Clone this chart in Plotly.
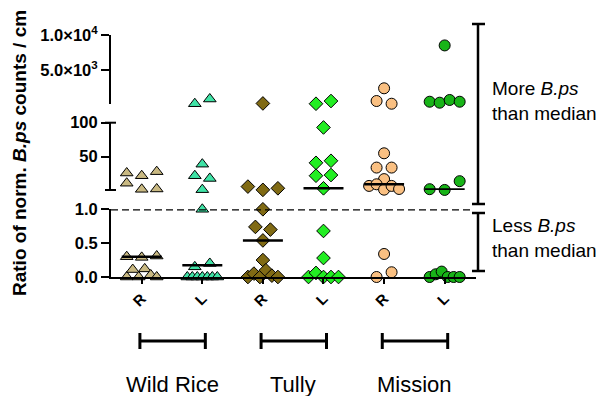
import numpy as np
import plotly.graph_objects as go

# ---------------- data ----------------
groups = ["Wild Rice", "Tully", "Mission"]
tick_labels = ["R", "L", "R", "L", "R", "L"]

wild_rice_R = [26, 22, 28, 11, 2.0, 2.5, 0.30, 0.29, 0.31, 0, 0.11, 0, 0.12, 0.03, 0]
wild_rice_L = [110, 790, 39, 22, 18, 1.5, 1.0, 0.15, 0.2, 0, 0, 0, 0, 0, 0, 0]
tully_R = [150, 6, 1.2, 3.5, 1.0, 0.74, 0.70, 0.54, 0.25, 0, 0.05, 0, 0.1, 0.02, 0]
tully_L = [110, 500, 93, 41, 44, 22, 23, 3.5, 0.68, 0.28, 0, 0.06, 0, 0, 0]
mission_R = [500, 110, 2330, 55, 34, 34, 17, 7, 9.4, 1.5, 7, 2.5, 0.34, 0, 0.07]
mission_L = [8500, 400, 260, 650, 400, 2.2, 1.1, 14, 0, 0.04, 0.08, 0, 0, 0]

series = [wild_rice_R, wild_rice_L, tully_R, tully_L, mission_R, mission_L]

# ---------------- styles ----------------
symbols = ["triangle-up", "triangle-up", "diamond", "diamond", "circle", "circle"]
sizes = [11, 11, 10.5, 10.5, 11, 11]
colors = ["#C9B982", "#3FE3A6", "#806A14", "#22EE22", "#FAC082", "#18B418"]
FONT = "Arial, Liberation Sans, sans-serif"

PAGE_W, PAGE_H = 605, 404
BODY = 8                                    # default page margin around the figure
W, H = PAGE_W - 2 * BODY, PAGE_H - 2 * BODY  # keep the page free of scrollbars
FIG_R, FIG_B = BODY + W, BODY + H          # figure right / bottom edge in page px
PL, PR, PT, PB = 111, 476, 35, 277          # plot area in page px
PW, PH = PR - PL, PB - PT
XR = [-0.507, 5.517]
PX_PER_UNIT = PW / (XR[1] - XR[0])

# axis segments: (domain, range)
SEGS = [((0.0, 0.2798), (0, 1)),
        ((0.3595, 0.6376), (1, 100)),
        ((0.7157, 1.0), (100, 10000))]
YNAMES = ["y", "y2", "y3"]


def seg_of(v):
    if v <= 1:
        return 0
    if v <= 100:
        return 1
    return 2


def py_of(v):
    (d0, d1), (r0, r1) = SEGS[seg_of(v)]
    frac = d0 + (v - r0) / (r1 - r0) * (d1 - d0)
    return PB - frac * PH


def px2x(px):
    return (px - PL) / PW


def py2y(py):
    return (PB - py) / PH


def swarm_offsets(vals, thr=9.0, max_w=30.0, step=15.0):
    """row-based spreading of points with similar pixel heights"""
    pys = np.array([py_of(v) for v in vals])
    order = sorted(range(len(vals)), key=lambda i: (-pys[i], i))
    rows, cur, start = [], [], None
    for i in order:
        if start is None or start - pys[i] > thr:
            if cur:
                rows.append(cur)
            cur, start = [i], pys[i]
        else:
            cur.append(i)
    if cur:
        rows.append(cur)
    offs = np.zeros(len(vals))
    for r in rows:
        r = sorted(r)
        n = len(r)
        sp = step if n <= 1 else min(step, max_w / (n - 1))
        for k, i in enumerate(r):
            offs[i] = (k - (n - 1) / 2) * sp / PX_PER_UNIT
    return offs


fig = go.Figure()

for ci, vals in enumerate(series):
    offs = swarm_offsets(vals)
    for s in range(3):
        idx = [i for i, v in enumerate(vals) if seg_of(v) == s]
        if not idx:
            continue
        fig.add_trace(go.Scatter(
            x=[ci + offs[i] for i in idx], y=[vals[i] for i in idx],
            yaxis=YNAMES[s], xaxis="x", mode="markers", cliponaxis=False,
            showlegend=False, hoverinfo="skip",
            marker=dict(symbol=symbols[ci], size=sizes[ci], color=colors[ci],
                        line=dict(color="black", width=1))))

# medians
for ci, vals in enumerate(series):
    med = float(np.median(vals))
    fig.add_trace(go.Scatter(
        x=[ci - 0.33, ci + 0.33], y=[med, med], yaxis=YNAMES[seg_of(med)],
        xaxis="x", mode="lines", cliponaxis=False, showlegend=False,
        hoverinfo="skip", line=dict(color="black", width=2.5)))

ycommon = dict(showline=True, linecolor="black", linewidth=2, ticks="outside",
               ticklen=8, tickwidth=2, tickcolor="black", showgrid=False,
               zeroline=False, anchor="x",
               tickfont=dict(family=FONT, size=16.5, color="black"))

fig.update_layout(
    width=W, height=H, plot_bgcolor="white", paper_bgcolor="white",
    margin=dict(l=PL - BODY, r=FIG_R - PR, t=PT - BODY, b=FIG_B - PB),
    font=dict(family=FONT, color="black"),
    xaxis=dict(range=XR, tickvals=list(range(6)),
               ticktext=[f"<b>{t}</b>" for t in tick_labels], tickangle=-45,
               showline=True, linewidth=2, linecolor="black", ticks="outside",
               ticklen=5, tickwidth=2, tickcolor="black", showgrid=False,
               zeroline=False, anchor="y",
               tickfont=dict(family=FONT, size=15, color="black")),
    yaxis=dict(domain=SEGS[0][0], range=SEGS[0][1], tickvals=[0, 0.5, 1],
               ticktext=["<b>0.0</b>", "<b>0.5</b>", "<b>1.0</b>"], **ycommon),
    yaxis2=dict(domain=SEGS[1][0], range=SEGS[1][1], tickvals=[50, 100],
                ticktext=["<b>50</b>", "<b>100</b>"], **ycommon),
    yaxis3=dict(domain=SEGS[2][0], range=SEGS[2][1], tickvals=[5000, 10000],
                ticktext=["<b>5.0×10<sup>3</sup></b>", "<b>1.0×10<sup>4</sup></b>"],
                **ycommon),
)

shapes = []
# segment end caps on the y axis
for yy in (py_of(100), py_of(1.0001)):
    shapes.append(dict(type="line", xref="paper", yref="paper", x0=px2x(105), x1=px2x(116),
                       y0=py2y(yy), y1=py2y(yy), line=dict(color="black", width=2)))
# dashed line at 1.0
shapes.append(dict(type="line", xref="x", yref="y", x0=XR[0], x1=5.42, y0=1, y1=1,
                   line=dict(color="black", width=2.2, dash="7px,4px")))
# group brackets below axis
for gi in range(3):
    a, b = 2 * gi - 0.03, 2 * gi + 1 + 0.05
    yb = py2y(341)
    shapes.append(dict(type="line", xref="x", yref="paper", x0=a, x1=b, y0=yb, y1=yb,
                       line=dict(color="black", width=3)))
    for xx in (a, b):
        shapes.append(dict(type="line", xref="x", yref="paper", x0=xx, x1=xx,
                           y0=py2y(333), y1=py2y(349), line=dict(color="black", width=3)))
# right-hand brackets
for (t, bt) in ((24, 204), (213, 271)):
    shapes.append(dict(type="line", xref="paper", yref="paper", x0=px2x(478), x1=px2x(478),
                       y0=py2y(t), y1=py2y(bt), line=dict(color="black", width=2.5)))
    for yy in (t, bt):
        shapes.append(dict(type="line", xref="paper", yref="paper", x0=px2x(472),
                           x1=px2x(485), y0=py2y(yy), y1=py2y(yy),
                           line=dict(color="black", width=2.5)))
fig.update_layout(shapes=shapes)

ann = []
ann.append(dict(text="<b>Ratio of norm. <i>B.ps</i> counts / cm</b>", textangle=-90,
                xref="paper", yref="paper", x=px2x(19), y=py2y(153), showarrow=False,
                xanchor="center", yanchor="middle", font=dict(size=19, family=FONT)))
for gi, g in enumerate(groups):
    ann.append(dict(text=g, xref="x", yref="paper", x=2 * gi + 0.5, y=py2y(384),
                    showarrow=False, xanchor="center", yanchor="middle",
                    font=dict(size=22, family=FONT)))
ann.append(dict(text="More <i>B.ps</i><br>than median", xref="paper", yref="paper",
                x=px2x(490), y=py2y(101), showarrow=False, xanchor="left",
                yanchor="middle", align="left", font=dict(size=19, family=FONT)))
ann.append(dict(text="Less <i>B.ps</i><br>than median", xref="paper", yref="paper",
                x=px2x(490), y=py2y(238), showarrow=False, xanchor="left",
                yanchor="middle", align="left", font=dict(size=19, family=FONT)))
fig.update_layout(annotations=ann)

fig.write_html("out.html")
